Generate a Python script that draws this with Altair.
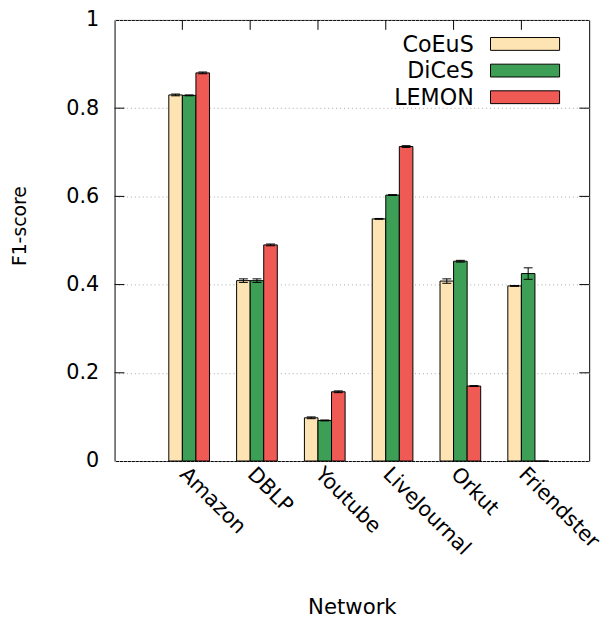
import json
import altair as alt
import pandas as pd

networks = ["Amazon", "DBLP", "Youtube", "LiveJournal", "Orkut", "Friendster"]
series = ["CoEuS", "DiCeS", "LEMON"]
colors = ["#ffe4b3", "#3c9f55", "#f05a55"]
coeus = [0.830, 0.409, 0.098, 0.549, 0.408, 0.397]
dices = [0.829, 0.409, 0.092, 0.603, 0.453, 0.425]
lemon = [0.880, 0.490, 0.157, 0.713, 0.170, 0.0]
coeus_err = [0.002, 0.004, 0.002, 0.001, 0.005, 0.001]
dices_err = [0.001, 0.004, 0.001, 0.001, 0.002, 0.013]
lemon_err = [0.002, 0.002, 0.002, 0.002, 0.001, 0.0]
y_ticks = [0, 0.2, 0.4, 0.6, 0.8, 1]
y_title = "F1-score"
x_title = "Network"

vals = [coeus, dices, lemon]
errs = [coeus_err, dices_err, lemon_err]
rows = []
for k, s in enumerate(series):
    for i, n in enumerate(networks):
        rows.append({"network": n, "idx": i, "series": s, "k": k,
                     "value": vals[k][i], "err": errs[k][i]})
df = pd.DataFrame(rows)

FONT = "DejaVu Sans"
W, H = 481, 447
xscale = alt.Scale(domain=[-1, 6], nice=False, zero=False)
yscale = alt.Scale(domain=[0, 1], nice=False)

xaxis = alt.Axis(
    values=list(range(len(networks))),
    labelExpr=json.dumps(networks) + "[datum.value]",
    ticks=False, grid=False, domain=False,
    labelAngle=45, labelAlign="left", labelBaseline="middle",
    labelPadding=10, labelFontSize=21, labelFont=FONT, labelColor="black",
    labelFlush=False, labelOverlap=False, labelBound=False,
    title=x_title, titleFont=FONT, titleFontSize=21.5, titleFontWeight="normal",
    titleColor="black", titleBaseline="alphabetic", titleY=155, titleX=W / 2,
)
yaxis = alt.Axis(
    values=y_ticks, format="~g",
    ticks=False, domain=False, grid=True,
    gridColor="#a8a8a8", gridDash=[1, 3], gridWidth=1,
    labelPadding=16, labelFontSize=21, labelFont=FONT, labelColor="black",
    labelFlush=False, labelOverlap=False, labelBound=False,
    title=None,
)

def X(field):
    return alt.X(field, scale=xscale, axis=xaxis)

def Y(field):
    return alt.Y(field, scale=yscale, axis=yaxis, stack=None)

base = alt.Chart(df).transform_calculate(
    x0="datum.idx + 0.2 * datum.k - 0.2",
    x1="datum.idx + 0.2 * datum.k",
    xc="datum.idx + 0.2 * datum.k - 0.1",
    y0="0",
    lo="datum.value - datum.err",
    hi="datum.value + datum.err",
)

bars = base.mark_bar(stroke="black", strokeWidth=1, opacity=1).encode(
    x=X("x0:Q"),
    x2="x1:Q",
    y=Y("value:Q"),
    y2="y0:Q",
    fill=alt.Fill("series:N", scale=alt.Scale(domain=series, range=colors), legend=None),
)

errbase = base.transform_filter("datum.err > 0")
err_rule = errbase.mark_rule(color="black", strokeWidth=1).encode(
    x=X("xc:Q"), y=Y("lo:Q"), y2="hi:Q")
cap_lo = errbase.mark_tick(orient="horizontal", size=9, thickness=1, color="black", opacity=1).encode(
    x=X("xc:Q"), y=Y("lo:Q"))
cap_hi = errbase.mark_tick(orient="horizontal", size=9, thickness=1, color="black", opacity=1).encode(
    x=X("xc:Q"), y=Y("hi:Q"))

tick_df = pd.DataFrame({"v": y_ticks[1:-1]})
left_ticks = alt.Chart(tick_df).mark_rule(color="black", strokeWidth=1).encode(
    y=Y("v:Q"), x=alt.value(0), x2=alt.value(10))
right_ticks = alt.Chart(tick_df).mark_rule(color="black", strokeWidth=1).encode(
    y=Y("v:Q"), x=alt.value(W - 10), x2=alt.value(W))
top_df = pd.DataFrame({"idx": list(range(len(networks)))})
top_ticks = alt.Chart(top_df).mark_rule(color="black", strokeWidth=1).encode(
    x=X("idx:Q"), y=alt.value(0), y2=alt.value(10))

ytitle = alt.Chart(pd.DataFrame({"t": [y_title]})).mark_text(
    angle=270, fontSize=19, font=FONT, color="black", align="center", baseline="middle"
).encode(x=alt.value(-96), y=alt.value(209), text="t:N")

legend_layers = []
for i, (s, c) in enumerate(zip(series, colors)):
    yc = 24.3 + 27 * i
    ldf = pd.DataFrame({"s": [s]})
    legend_layers.append(
        alt.Chart(ldf).mark_text(align="right", baseline="middle", fontSize=22.5,
                                 font=FONT, color="black").encode(
            x=alt.value(364), y=alt.value(yc + 1), text="s:N"))
    legend_layers.append(
        alt.Chart(ldf).mark_rect(fill=c, stroke="black", strokeWidth=1).encode(
            x=alt.value(381), x2=alt.value(451),
            y=alt.value(yc - 6.5), y2=alt.value(yc + 6.5)))

chart = alt.layer(
    bars, left_ticks, right_ticks, top_ticks, err_rule, cap_lo, cap_hi, ytitle, *legend_layers
).properties(
    width=W, height=H,
    autosize=alt.AutoSizeParams(type="none"),
    padding={"left": 108, "top": 8, "right": 14, "bottom": 157},
).configure(
    font=FONT,
    view=alt.ViewConfig(stroke="black", strokeWidth=1),
)

chart.save("out.html", embed_options={"renderer": "svg", "actions": False})
